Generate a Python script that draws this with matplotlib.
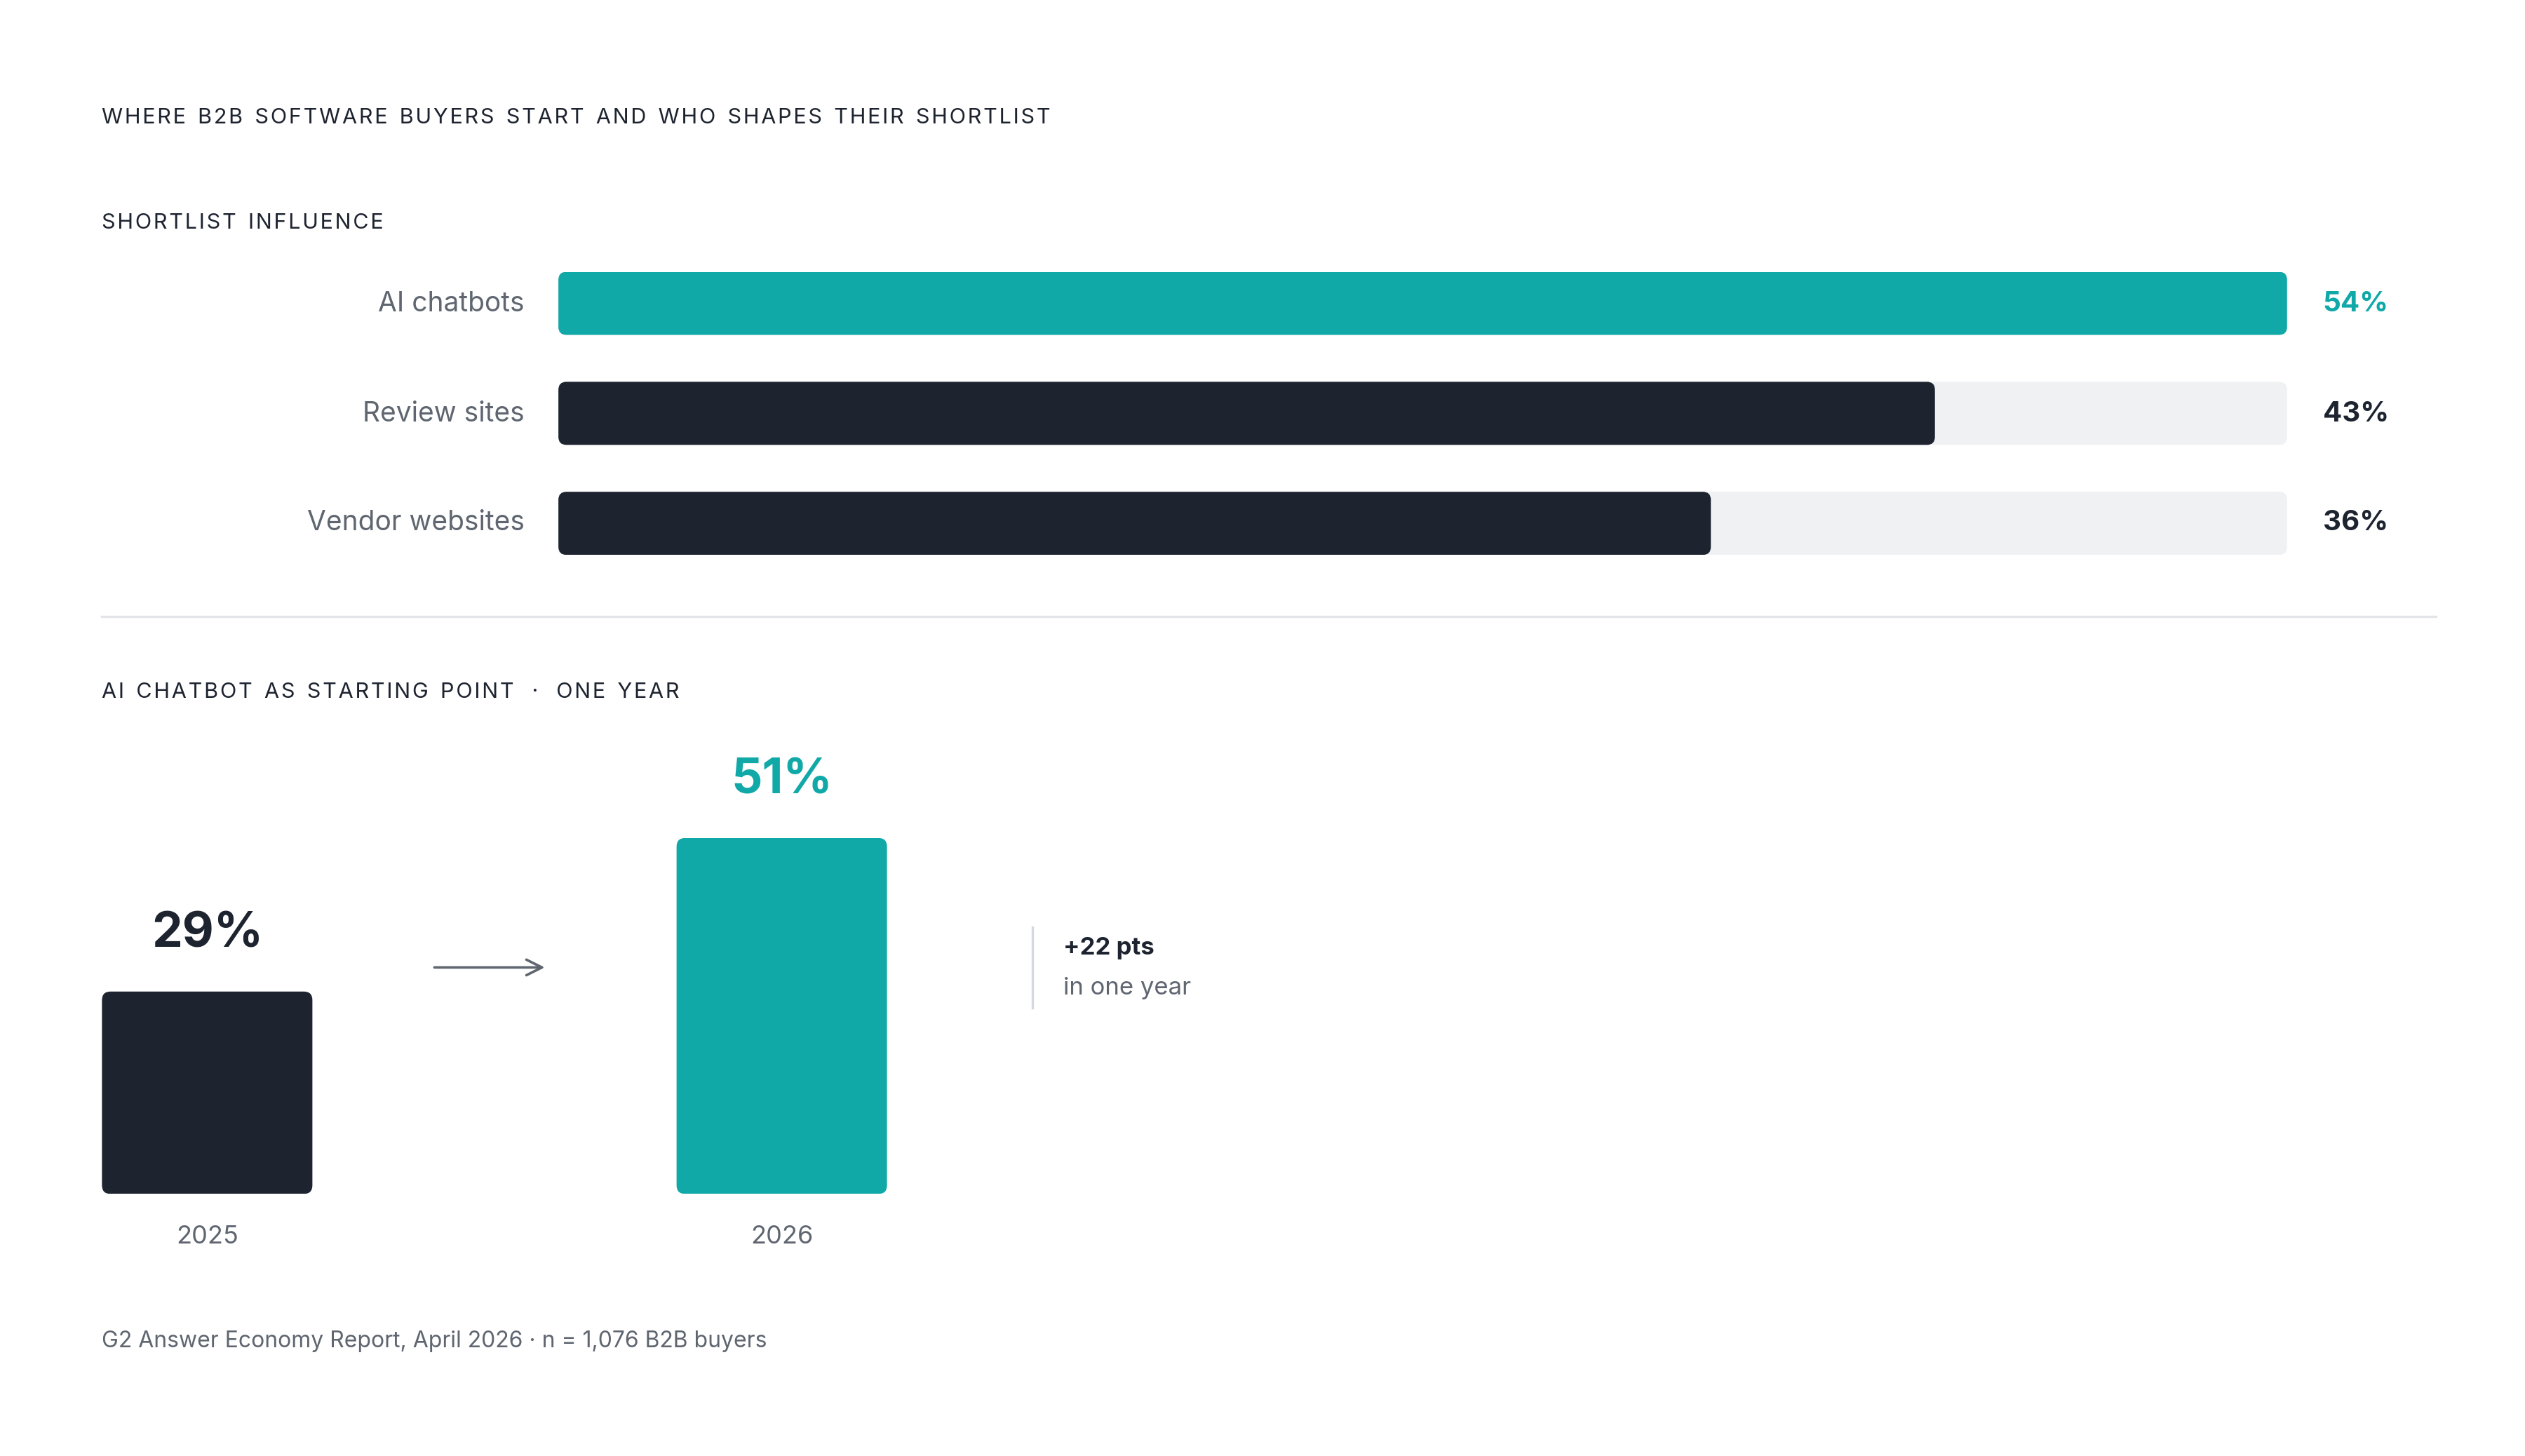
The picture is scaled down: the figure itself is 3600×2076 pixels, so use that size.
import matplotlib.pyplot as plt
from matplotlib.patches import FancyBboxPatch

plt.rcParams['font.family'] = ['Inter', 'DejaVu Sans']

channels = ["AI chatbots", "Review sites", "Vendor websites"]
influence = [54, 43, 36]
years = ["2025", "2026"]
start_share = [29, 51]

TEAL = "#11a8a8"
DARK = "#1d2430"
TRACK = "#f0f1f3"
GRAY = "#5f6670"

W, H = 1560, 900  # layout units (reference px)
fig = plt.figure(figsize=(18, 10.38), dpi=200)
fig.patch.set_facecolor("white")


def rect(x0, y0, x1, y1):
    # layout px (y down) -> figure fraction
    return [x0 / W, 1 - y1 / H, (x1 - x0) / W, (y1 - y0) / H]


def spaced(s):
    return "\u200a".join(s).replace("\u200a \u200a", "  ")


# overlay for text and decoration
ov = fig.add_axes([0, 0, 1, 1])
ov.set_xlim(0, W)
ov.set_ylim(H, 0)
ov.axis("off")

# top horizontal bars
row_y = [188, 256, 323]
ax1 = fig.add_axes(rect(345, 168, 1413, 343))
ax1.set_xlim(0, max(influence))
ax1.set_ylim(2 + 0.287, -0.287)
ax1.axis("off")
bh = 39 / 68
asp = (1 / 68) / (54 / 1068)
for i, v in enumerate(influence):
    ax1.add_patch(FancyBboxPatch((0, i - bh / 2), max(influence), bh,
                                 boxstyle="round,pad=0,rounding_size=0.25",
                                 mutation_aspect=asp, fc=TRACK, ec="none"))
    ax1.add_patch(FancyBboxPatch((0, i - bh / 2), v, bh,
                                 boxstyle="round,pad=0,rounding_size=0.25",
                                 mutation_aspect=asp, fc=TEAL if i == 0 else DARK, ec="none"))
    ov.text(324, row_y[i], channels[i], ha="right", va="center", fontsize=14, color=GRAY)
    ov.text(1435, row_y[i], f"{v}%", ha="left", va="center", fontsize=14.5,
            fontweight="bold", color=TEAL if i == 0 else DARK)

# bottom vertical bars
ax2 = fig.add_axes(rect(63, 518, 548, 738))
ax2.set_xlim(-65 / 355, 1 + 65 / 355)
ax2.set_ylim(0, max(start_share))
ax2.axis("off")
bw = 130 / 355
asp2 = (51 / 220) / (1 / 355)
for i, v in enumerate(start_share):
    c = DARK if i == 0 else TEAL
    ax2.add_patch(FancyBboxPatch((i - bw / 2, 0), bw, v,
                                 boxstyle="round,pad=0,rounding_size=0.015",
                                 mutation_aspect=asp2, fc=c, ec="none"))
    ax2.text(i, v + 5, f"{v}%", ha="center", va="bottom", fontsize=25,
             fontweight="bold", color=c)
    ax2.text(i, -4.5, years[i], ha="center", va="top", fontsize=13, color=GRAY)

# headings
ov.text(63, 73, spaced("WHERE B2B SOFTWARE BUYERS START AND WHO SHAPES THEIR SHORTLIST"),
        ha="left", va="center", fontsize=11, color=DARK)
ov.text(63, 138, spaced("SHORTLIST INFLUENCE"), ha="left", va="center", fontsize=11, color=DARK)
ov.text(63, 428, spaced("AI CHATBOT AS STARTING POINT") + "   ·   " + spaced("ONE YEAR"),
        ha="left", va="center", fontsize=11, color=DARK)
ov.plot([63, 1505], [381, 381], color="#e3e5e8", lw=1.2)

# arrow + annotation
ov.annotate("", xy=(339, 598), xytext=(266, 598),
            arrowprops=dict(arrowstyle="->,head_length=0.8,head_width=0.4", color=GRAY, lw=1.3))
ov.plot([638, 638], [573, 623], color="#d5d8dc", lw=1.2)
ov.text(657, 586, "+22 pts", ha="left", va="center", fontsize=12.5, fontweight="bold", color=DARK)
ov.text(657, 611, "in one year", ha="left", va="center", fontsize=12.5, color=GRAY)

ov.text(63, 829, "G2 Answer Economy Report, April 2026 · n = 1,076 B2B buyers",
        ha="left", va="center", fontsize=11.5, color=GRAY)

fig.savefig("out.png", dpi=200, facecolor="white")
